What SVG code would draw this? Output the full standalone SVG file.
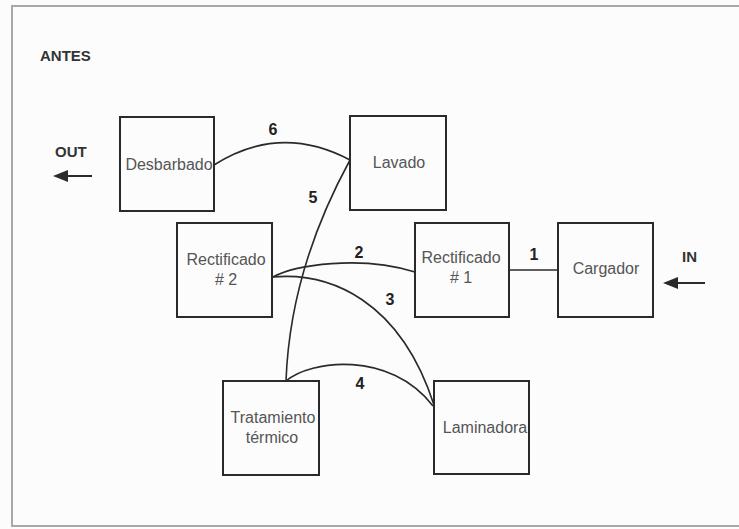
<svg xmlns="http://www.w3.org/2000/svg" width="739" height="529" viewBox="0 0 739 529">
<style>
.box{fill:none;stroke:#2a2a2a;stroke-width:2}
.btxt{font-family:"Liberation Sans",Arial,sans-serif;font-size:16px;fill:#555;text-anchor:middle}
.lbl{font-family:"Liberation Sans",Arial,sans-serif;font-size:16px;font-weight:bold;fill:#222;text-anchor:middle}
.hdr{font-family:"Liberation Sans",Arial,sans-serif;font-size:15px;font-weight:bold;fill:#333}
.con{fill:none;stroke:#2a2a2a;stroke-width:1.6}
.frame{fill:none;stroke:#a8a8a8;stroke-width:2}
</style>
<rect x="0" y="0" width="739" height="529" fill="#fcfcfc"/>
<path class="frame" d="M739,6 H12 V526 H739"/>
<text class="hdr" x="40" y="61">ANTES</text>
<g id="out">
<text class="hdr" x="55" y="157">OUT</text>
<path d="M92,176 H66" stroke="#2a2a2a" stroke-width="2"/>
<polygon points="53,176 68,170 68,182" fill="#2a2a2a"/>
</g>
<g id="in">
<text class="hdr" x="682" y="262">IN</text>
<path d="M705,283 H676" stroke="#2a2a2a" stroke-width="2"/>
<polygon points="663,283 678,277 678,289" fill="#2a2a2a"/>
</g>
<g id="connectors">
<path class="con" d="M509,270 H558"/>
<path class="con" d="M273,277 C295,265 360,255 415,272"/>
<path class="con" d="M273,277 C330,272 400,300 434,405"/>
<path class="con" d="M286,381 C310,360 390,350 433,406"/>
<path class="con" d="M286,381 Q290,270 350,160"/>
<path class="con" d="M214,165 Q280,123 350,160"/>
<text class="lbl" x="534" y="260">1</text>
<text class="lbl" x="359" y="258">2</text>
<text class="lbl" x="390" y="305">3</text>
<text class="lbl" x="360" y="389">4</text>
<text class="lbl" x="313" y="203">5</text>
<text class="lbl" x="273" y="135">6</text>
</g>
<g id="desbarbado">
<rect class="box" x="120" y="117" width="94" height="94"/>
<text class="btxt" x="169" y="170">Desbarbado</text>
</g>
<g id="lavado">
<rect class="box" x="350" y="116" width="96" height="94"/>
<text class="btxt" x="399" y="168">Lavado</text>
</g>
<g id="rectificado2">
<rect class="box" x="177" y="223" width="95" height="94"/>
<text class="btxt" x="226" y="265">Rectificado</text>
<text class="btxt" x="226" y="285"># 2</text>
</g>
<g id="rectificado1">
<rect class="box" x="415" y="223" width="94" height="94"/>
<text class="btxt" x="461" y="263">Rectificado</text>
<text class="btxt" x="461" y="283"># 1</text>
</g>
<g id="cargador">
<rect class="box" x="558" y="223" width="95" height="94"/>
<text class="btxt" x="606" y="274">Cargador</text>
</g>
<g id="tratamiento">
<rect class="box" x="223" y="381" width="96" height="94"/>
<text class="btxt" x="273" y="423">Tratamiento</text>
<text class="btxt" x="272" y="443">térmico</text>
</g>
<g id="laminadora">
<rect class="box" x="434" y="381" width="95" height="93"/>
<text class="btxt" x="485" y="433">Laminadora</text>
</g>
</svg>
